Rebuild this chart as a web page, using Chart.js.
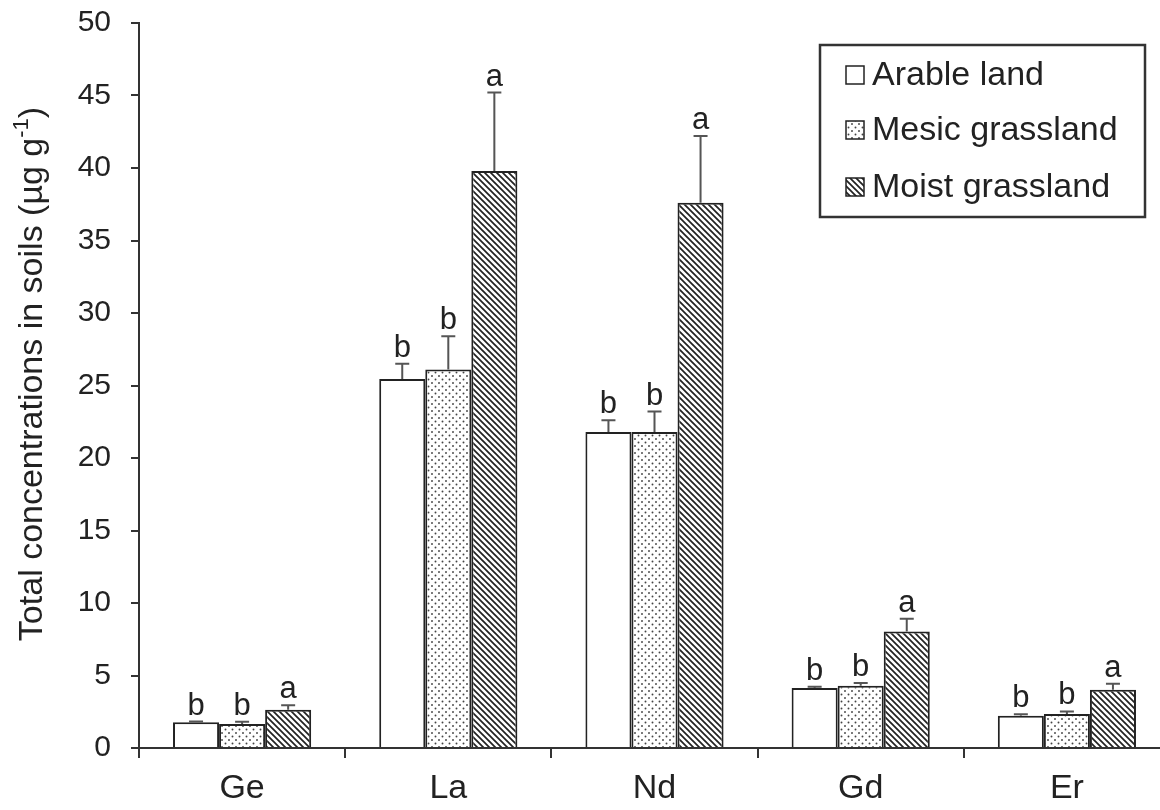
<!DOCTYPE html>
<html>
<head>
<meta charset="utf-8">
<script src="https://cdn.jsdelivr.net/npm/chart.js@4.4.1/dist/chart.umd.min.js"></script>
<style>
  html, body { margin: 0; padding: 0; background: #fff; overflow: hidden; }
  #wrap { width: 1160px; height: 810px; overflow: hidden; }
</style>
</head>
<body>
<div id="wrap"><canvas id="c" width="1172" height="810"></canvas></div>
<script>
// ── DATA ──
const elements = ['Ge', 'La', 'Nd', 'Gd', 'Er'];
const seriesNames = ['Arable land', 'Mesic grassland', 'Moist grassland'];
const arable = [1.77, 25.45, 21.8, 4.14, 2.23];
const arableErr = [0.05, 1.05, 0.8, 0.09, 0.09];
const arableLetters = ['b', 'b', 'b', 'b', 'b'];
const mesic = [1.66, 26.1, 21.8, 4.3, 2.34];
const mesicErr = [0.15, 2.3, 1.4, 0.18, 0.18];
const mesicLetters = ['b', 'b', 'b', 'b', 'b'];
const moist = [2.64, 39.8, 37.6, 8.04, 4.02];
const moistErr = [0.3, 5.4, 4.6, 0.88, 0.41];
const moistLetters = ['a', 'a', 'a', 'a', 'a'];
const yTicks = [0, 5, 10, 15, 20, 25, 30, 35, 40, 45, 50];
const yTitle = ['Total concentrations in soils (µg g', '-1', ')'];

const FONT = '"Liberation Sans", Arial, sans-serif';
const INK = '#222';

// ── PATTERNS ──
function dotPattern() {
  const t = document.createElement('canvas'); t.width = 7; t.height = 7;
  const g = t.getContext('2d');
  g.fillStyle = '#fff'; g.fillRect(0, 0, 7, 7);
  g.fillStyle = '#444';
  [[1.5, 1.5], [5, 5]].forEach(([x, y]) => { g.beginPath(); g.arc(x, y, 0.95, 0, Math.PI * 2); g.fill(); });
  return g.createPattern(t, 'repeat');
}
function hatchPattern() {
  const s = 6;
  const t = document.createElement('canvas'); t.width = s; t.height = s;
  const g = t.getContext('2d');
  g.fillStyle = '#fff'; g.fillRect(0, 0, s, s);
  g.strokeStyle = '#222'; g.lineWidth = 1.7;
  g.beginPath();
  g.moveTo(0, 0); g.lineTo(s, s);
  g.moveTo(-1, s - 1); g.lineTo(1, s + 1);
  g.moveTo(s - 1, -1); g.lineTo(s + 1, 1);
  g.stroke();
  return g.createPattern(t, 'repeat');
}
const fills = ['#ffffff', dotPattern(), hatchPattern()];

// ── ERROR BARS + LETTERS ──
const errPlugin = {
  id: 'errbars',
  afterDatasetsDraw(chart) {
    const ctx = chart.ctx, y = chart.scales.y;
    chart.data.datasets.forEach((ds, i) => {
      chart.getDatasetMeta(i).data.forEach((bar, j) => {
        const top = y.getPixelForValue(ds.data[j] + ds.err[j]);
        ctx.save();
        ctx.strokeStyle = '#555'; ctx.lineWidth = 2;
        ctx.beginPath();
        ctx.moveTo(bar.x, bar.y); ctx.lineTo(bar.x, top);
        ctx.moveTo(bar.x - 7, top); ctx.lineTo(bar.x + 7, top);
        ctx.stroke();
        ctx.fillStyle = INK; ctx.font = '31px ' + FONT;
        ctx.textAlign = 'center'; ctx.textBaseline = 'alphabetic';
        ctx.fillText(ds.letters[j], bar.x, top - 7);
        ctx.restore();
      });
    });
  }
};

// ── Y TITLE WITH SUPERSCRIPT ──
const titlePlugin = {
  id: 'ytitle',
  afterDraw(chart) {
    const ctx = chart.ctx;
    const sizes = [34, 22, 34], rise = [0, -11, 0];
    ctx.save();
    ctx.translate(33, 374);
    ctx.rotate(-Math.PI / 2);
    ctx.fillStyle = INK; ctx.textBaseline = 'middle'; ctx.textAlign = 'left';
    const widths = yTitle.map((t, k) => { ctx.font = sizes[k] + 'px ' + FONT; return ctx.measureText(t).width; });
    let x = -widths.reduce((a, b) => a + b, 0) / 2;
    yTitle.forEach((t, k) => {
      ctx.font = sizes[k] + 'px ' + FONT;
      ctx.fillText(t, x, rise[k]);
      x += widths[k];
    });
    ctx.restore();
  }
};

// ── BOXED LEGEND ──
const legendPlugin = {
  id: 'boxlegend',
  afterDraw(chart) {
    const ctx = chart.ctx;
    ctx.save();
    ctx.strokeStyle = '#333'; ctx.lineWidth = 2.5;
    ctx.strokeRect(820, 45, 325, 172);
    const rows = [75, 130, 187];
    chart.data.datasets.forEach((ds, i) => {
      const cy = rows[i];
      ctx.fillStyle = ds.backgroundColor;
      ctx.fillRect(846, cy - 9, 18, 18);
      ctx.strokeStyle = INK; ctx.lineWidth = 1.5;
      ctx.strokeRect(846, cy - 9, 18, 18);
      ctx.fillStyle = INK; ctx.font = '34px ' + FONT;
      ctx.textAlign = 'left'; ctx.textBaseline = 'middle';
      ctx.fillText(ds.label, 872, cy + 1);
    });
    ctx.restore();
  }
};

const mk = (i, data, err, letters) => ({
  label: seriesNames[i], data, err, letters,
  backgroundColor: fills[i], borderColor: INK, borderWidth: 2,
  categoryPercentage: 0.67, barPercentage: 1.0
});

new Chart(document.getElementById('c'), {
  type: 'bar',
  data: {
    labels: elements,
    datasets: [
      mk(0, arable, arableErr, arableLetters),
      mk(1, mesic, mesicErr, mesicLetters),
      mk(2, moist, moistErr, moistLetters)
    ]
  },
  options: {
    responsive: false, animation: false, devicePixelRatio: 1,
    layout: { padding: { top: 23, right: 2, left: 0, bottom: 0 } },
    plugins: { legend: { display: false }, tooltip: { enabled: false } },
    scales: {
      x: {
        afterFit: s => { s.height = 62; s.paddingLeft = 0; s.paddingRight = 0; },
        border: { display: true, color: '#333', width: 2 },
        grid: { drawOnChartArea: false, drawTicks: true, tickLength: 10, color: '#333', lineWidth: 2, offset: true },
        ticks: { color: INK, font: { family: FONT, size: 34 }, padding: 10 }
      },
      y: {
        min: 0, max: 50,
        afterFit: s => { s.width = 139; s.paddingTop = 0; s.paddingBottom = 0; },
        afterBuildTicks: s => { s.ticks = yTicks.map(v => ({ value: v })); },
        border: { display: true, color: '#333', width: 2 },
        grid: { drawOnChartArea: false, drawTicks: true, tickLength: 8, color: '#333', lineWidth: 2 },
        ticks: { color: INK, font: { family: FONT, size: 30 }, padding: 20 }
      }
    }
  },
  plugins: [errPlugin, titlePlugin, legendPlugin]
});
</script>
</body>
</html>
